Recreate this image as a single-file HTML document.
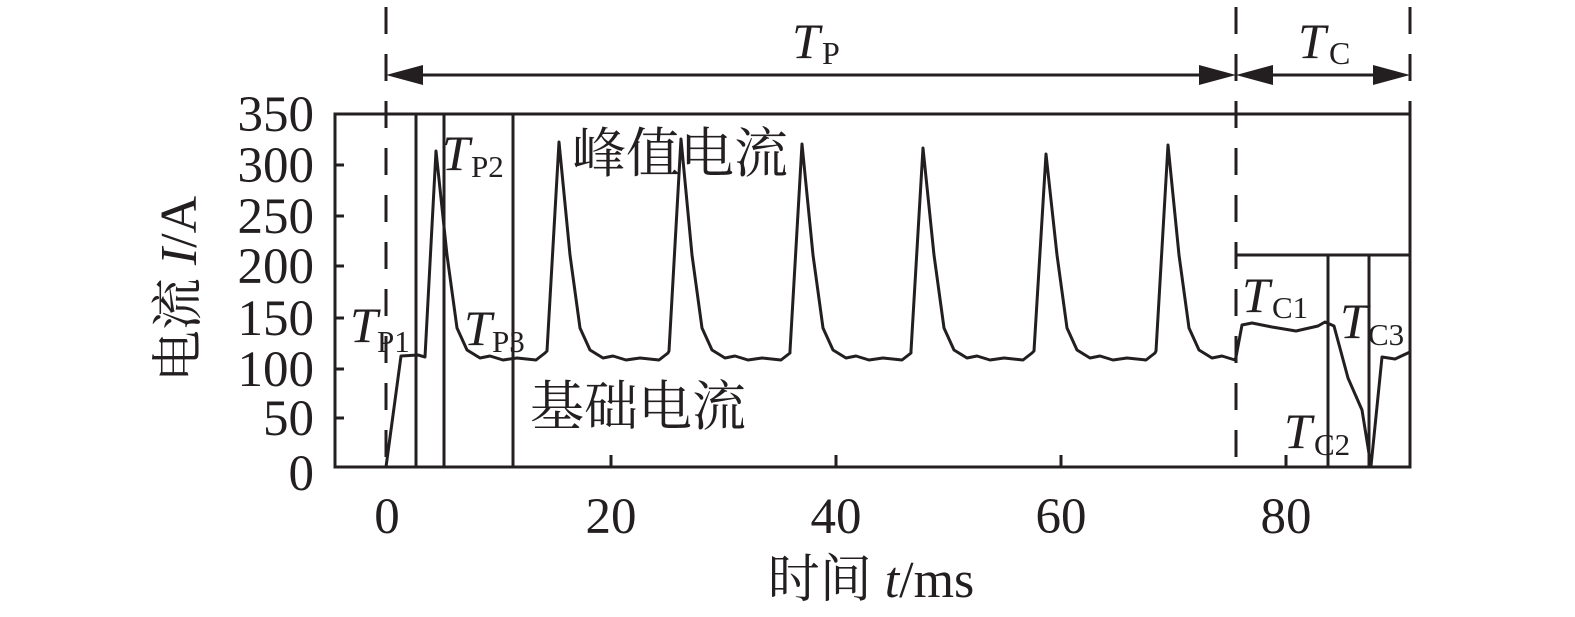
<!DOCTYPE html>
<html><head><meta charset="utf-8"><style>
html,body{margin:0;padding:0;background:#fff}
svg{display:block}
text{font-family:"Liberation Serif","Noto Serif CJK SC",serif;fill:#231f20}
.cjk{font-family:"Liberation Serif","Noto Serif CJK SC","Noto Sans CJK SC",serif}
</style></head><body>
<svg width="1575" height="617" viewBox="0 0 1575 617" xmlns="http://www.w3.org/2000/svg">
<g stroke="#231f20" stroke-width="3" fill="none">
 <rect x="335" y="114" width="1075" height="353"/>
 <path d="M335 165h9M335 216h9M335 266h9M335 318h9M335 369h9M335 418h9"/>
 <path d="M611 467v-12M836 467v-12M1061 467v-12M1286 467v-12"/>
 <path d="M386 7V467M1236 7V467M1410 7V114" stroke-dasharray="27 20"/>
 <path d="M416 114V467M444 114V467M513 114V467"/>
 <path d="M1236 255H1410M1328 255V467M1369 255V467"/>
 <path d="M410 75H1212M1260 75H1386"/>
 <path id="wave" stroke-width="3" stroke-linejoin="round"/>
</g>
<g fill="#231f20">
 <polygon points="386,75 423,65 423,85"/>
 <polygon points="1236,75 1199,65 1199,85"/>
 <polygon points="1236,75 1273,65 1273,85"/>
 <polygon points="1410,75 1373,65 1373,85"/>
</g>
<text x="792" y="58" font-size="50" font-style="italic">T</text><text x="822" y="64" font-size="32">P</text>
<text x="1298" y="58" font-size="50" font-style="italic">T</text><text x="1329" y="64" font-size="32">C</text>
<g font-size="51" text-anchor="end">
 <text x="314" y="131">350</text><text x="314" y="182">300</text><text x="314" y="233">250</text>
 <text x="314" y="283">200</text><text x="314" y="335">150</text><text x="314" y="386">100</text>
 <text x="314" y="435">50</text><text x="314" y="490">0</text>
</g>
<g font-size="51" text-anchor="middle">
 <text x="387" y="533">0</text><text x="611" y="533">20</text><text x="836" y="533">40</text>
 <text x="1061" y="533">60</text><text x="1286" y="533">80</text>
</g>
<text x="871" y="597" font-size="52" text-anchor="middle" class="cjk">时间 <tspan font-style="italic">t</tspan>/ms</text>
<text transform="translate(196,289) rotate(-90)" font-size="52" text-anchor="middle" class="cjk">电流 <tspan font-style="italic">I</tspan>/A</text>
<text x="572" y="172" font-size="54" class="cjk">峰值电流</text>
<text x="530" y="425" font-size="54" class="cjk">基础电流</text>
<g font-size="50" font-style="italic"><text x="350" y="342">T</text><text x="442" y="170">T</text><text x="464" y="345">T</text>
<text x="1242" y="312">T</text><text x="1340" y="338">T</text><text x="1284" y="448">T</text></g>
<g font-size="31"><text x="377" y="352">P1</text><text x="471" y="177">P2</text><text x="492" y="352">P3</text>
<text x="1272" y="318">C1</text><text x="1368" y="345">C3</text><text x="1314" y="455">C2</text></g>
</svg>
<script>
var pts=[[386,467],[401,356],[418,355],[425,357]];
var peaks=[[436,151],[559,142],[681,139],[802,144],[923,148],[1046,154],[1168,145]];
for(var i=0;i<peaks.length;i++){var p=peaks[i][0],y=peaks[i][1];
 if(i>0){pts.push([p-12,351]);}
 pts.push([p,y]);pts.push([p+11,255]);pts.push([p+21,328]);pts.push([p+31,350]);pts.push([p+44,358]);
 pts.push([p+54,356]);pts.push([p+67,360]);pts.push([p+81,358]);pts.push([p+100,360]);pts.push([p+109,353]);}
pts=pts.filter(function(q){return q[0]<=1236});
pts.push([1236,357],[1242,325],[1252,323],[1272,327],[1296,331],[1318,326],[1325,322],[1334,326],[1348,378],[1362,410],[1371,466],[1382,357],[1395,359],[1410,352]);
document.getElementById('wave').setAttribute('d','M'+pts.map(function(q){return q.join(' ')}).join('L'));
</script>
</body></html>
